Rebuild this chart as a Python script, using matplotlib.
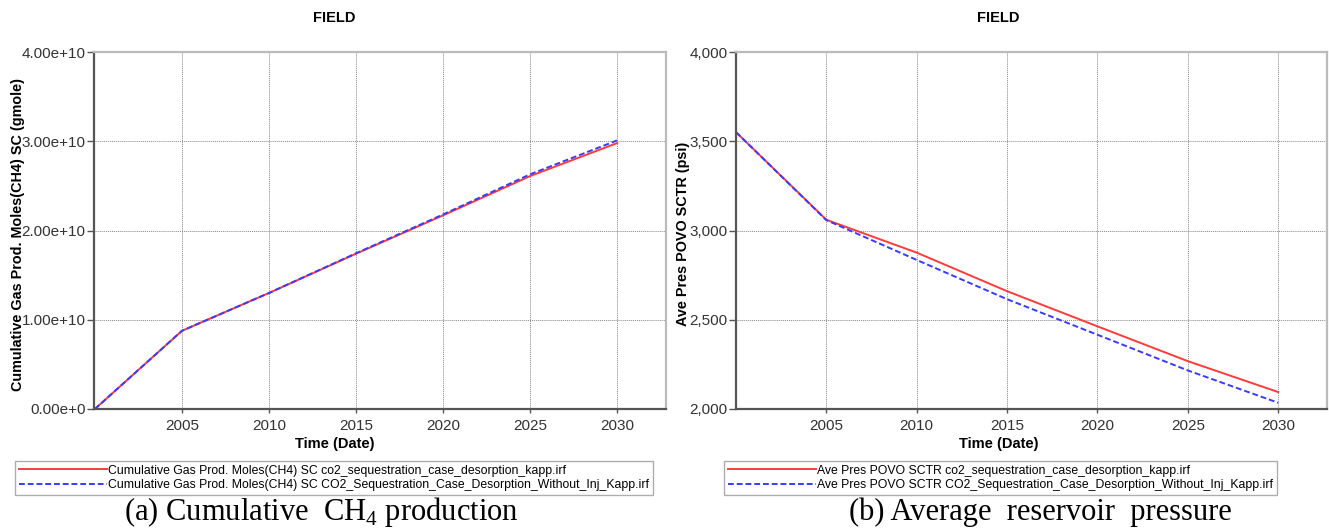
import matplotlib
matplotlib.use('Agg')
import matplotlib.pyplot as plt

plt.rcParams['font.family'] = ['Liberation Sans', 'DejaVu Sans']
plt.rcParams['mathtext.fontset'] = 'custom'
plt.rcParams['mathtext.rm'] = 'Liberation Serif'

# data (5-year steps)
years = [2000, 2005, 2010, 2015, 2020, 2025, 2030]
gas_kapp = [0.0, 0.876e10, 1.30e10, 1.74e10, 2.17e10, 2.61e10, 2.98e10]
gas_noinj = [0.0, 0.876e10, 1.30e10, 1.745e10, 2.18e10, 2.63e10, 3.01e10]
pres_kapp = [3551, 3060, 2876, 2660, 2463, 2268, 2095]
pres_noinj = [3551, 3058, 2835, 2615, 2416, 2216, 2035]

xticks = [2005, 2010, 2015, 2020, 2025, 2030]
gas_ticks = [0, 1e10, 2e10, 3e10, 4e10]
gas_ticklabels = ['0.00e+0', '1.00e+10', '2.00e+10', '3.00e+10', '4.00e+10']
pres_ticks = [2000, 2500, 3000, 3500, 4000]
pres_ticklabels = ['2,000', '2,500', '3,000', '3,500', '4,000']

red = '#ff3b3b'
blue = '#3a3aff'

fig = plt.figure(figsize=(13.29, 5.29), dpi=100)
W, H = 1329.0, 529.0

def px_axes(x0, x1, y0, y1):
    return fig.add_axes([x0 / W, 1 - y1 / H, (x1 - x0) / W, (y1 - y0) / H])

def style(ax):
    for s in ['left', 'bottom']:
        ax.spines[s].set_color('#555555')
        ax.spines[s].set_linewidth(1.6)
    for s in ['top', 'right']:
        ax.spines[s].set_color('#bbbbbb')
        ax.spines[s].set_linewidth(1.6)
    ax.grid(True, color='#888888', linestyle=(0, (1, 1)), linewidth=0.7)
    ax.tick_params(axis='y', direction='out', length=5, width=1, colors='#555555',
                   labelcolor='#333333', labelsize=11, pad=1)
    ax.tick_params(axis='x', direction='out', length=3, width=1, colors='#555555',
                   labelcolor='#333333', labelsize=11, pad=4)

# (a) cumulative gas
ax1 = px_axes(94, 666, 52, 409)
ax1.plot(years, gas_kapp, color=red, lw=1.4,
         label='Cumulative Gas Prod. Moles(CH4) SC co2_sequestration_case_desorption_kapp.irf')
ax1.plot(years, gas_noinj, color=blue, lw=1.4, linestyle=(0, (3, 1.5)),
         label='Cumulative Gas Prod. Moles(CH4) SC CO2_Sequestration_Case_Desorption_Without_Inj_Kapp.irf')
ax1.set_xlim(1999.95, 2032.8)
ax1.set_ylim(0, 4e10)
ax1.set_xticks(xticks)
ax1.set_yticks(gas_ticks)
ax1.set_yticklabels(gas_ticklabels)
style(ax1)
ax1.set_ylabel('Cumulative Gas Prod. Moles(CH4) SC (gmole)', fontsize=10.4, fontweight='bold')
ax1.yaxis.set_label_coords((25 - 94) / 572, 0.49)
ax1.set_xlabel('Time (Date)', fontsize=10.5, fontweight='bold')
ax1.xaxis.set_label_coords((335 - 94) / 572, (409 - 437) / 357)
ax1.legend(loc='upper left', bbox_to_anchor=(15 / W, 1 - 461 / H), bbox_transform=fig.transFigure,
           borderaxespad=0, fancybox=False, edgecolor='#999999', fontsize=8.8, handlelength=7.2,
           handletextpad=0.1, labelspacing=0.2, borderpad=0.3, frameon=True)

# (b) average pressure
ax2 = px_axes(736, 1327, 52, 409)
ax2.plot(years, pres_kapp, color=red, lw=1.4,
         label='Ave Pres POVO SCTR co2_sequestration_case_desorption_kapp.irf')
ax2.plot(years, pres_noinj, color=blue, lw=1.4, linestyle=(0, (3, 1.5)),
         label='Ave Pres POVO SCTR CO2_Sequestration_Case_Desorption_Without_Inj_Kapp.irf')
ax2.set_xlim(2000, 2032.7)
ax2.set_ylim(2000, 4000)
ax2.set_xticks(xticks)
ax2.set_yticks(pres_ticks)
ax2.set_yticklabels(pres_ticklabels)
style(ax2)
ax2.set_ylabel('Ave Pres POVO SCTR (psi)', fontsize=10.4, fontweight='bold')
ax2.yaxis.set_label_coords((690 - 736) / 591, 0.49)
ax2.set_xlabel('Time (Date)', fontsize=10.5, fontweight='bold')
ax2.xaxis.set_label_coords((999 - 736) / 591, (409 - 437) / 357)
ax2.legend(loc='upper left', bbox_to_anchor=(724 / W, 1 - 461 / H), bbox_transform=fig.transFigure,
           borderaxespad=0, fancybox=False, edgecolor='#999999', fontsize=8.8, handlelength=7.2,
           handletextpad=0.1, labelspacing=0.2, borderpad=0.3, frameon=True)

# titles and captions
fig.text(334 / W, 1 - 18 / H, 'FIELD', ha='center', va='center', fontsize=10.5, fontweight='bold')
fig.text(998 / W, 1 - 18 / H, 'FIELD', ha='center', va='center', fontsize=10.5, fontweight='bold')
fig.text(321 / W, 1 - 512 / H, r'(a) Cumulative  CH$_4$ production', ha='center', va='center',
         fontsize=22, family='Liberation Serif')
fig.text(1040 / W, 1 - 512 / H, '(b) Average  reservoir  pressure', ha='center', va='center',
         fontsize=22, family='Liberation Serif')

fig.savefig('out.png', dpi=100)
